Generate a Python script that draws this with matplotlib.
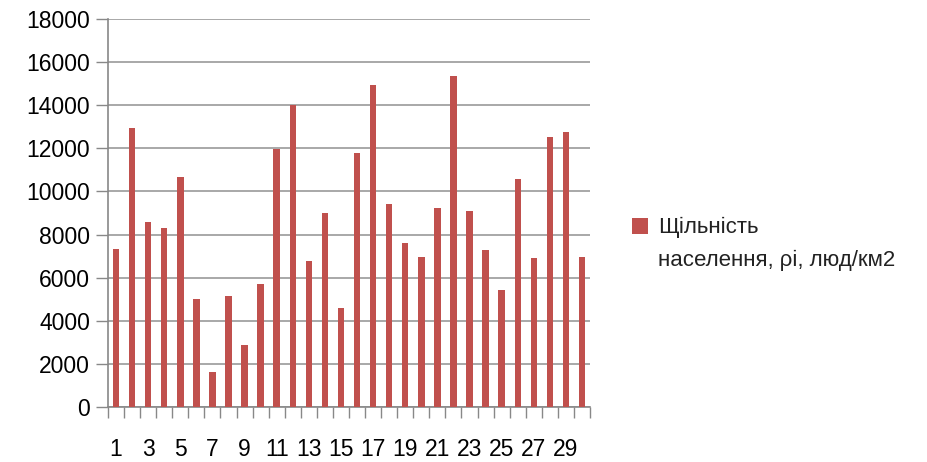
import numpy as np
import matplotlib
matplotlib.use("Agg")
import matplotlib.pyplot as plt
from matplotlib.patches import Rectangle
from matplotlib.ticker import FixedLocator

plt.rcParams['font.family'] = ['Liberation Sans', 'DejaVu Sans']

# district numbers and population density
districts = list(range(1, 31))
density = [7350, 12920, 8560, 8310, 10650, 5030, 1640, 5170, 2890, 5700,
           11960, 14000, 6760, 8980, 4610, 11780, 14940, 9400, 7600, 6950,
           9210, 15350, 9100, 7260, 5450, 10590, 6890, 12510, 12740, 6950]
label_lines = ["Щільність", "населення, ρі, люд/км2"]
y_ticks = list(range(0, 18001, 2000))

fig = plt.figure(figsize=(9.27, 4.62), dpi=100)
ax = fig.add_axes([0.1165, 0.119, 0.52, 0.84])

x = np.arange(len(districts))
bars = ax.bar(x, density, width=0.4, color="#C0504D", zorder=3)

ax.set_xlim(-0.5, len(districts) - 0.5)
ax.set_ylim(0, 18000)
ax.set_yticks(y_ticks)
ax.set_yticklabels([str(v) for v in y_ticks])

# labels on odd districts, tick marks on category borders
ax.xaxis.set_major_locator(FixedLocator(x[::2]))
ax.set_xticklabels([str(d) for d in districts[::2]])
ax.xaxis.set_minor_locator(FixedLocator(np.arange(-0.5, len(districts), 1.0)))
ax.tick_params(axis="x", which="major", length=0, pad=22, labelsize=16.5)
ax.tick_params(axis="x", which="minor", length=8, color="#888888", width=1)
ax.tick_params(axis="y", length=9, color="#888888", width=1, labelsize=16.5, pad=4)

ax.grid(axis="y", color="#999999", linewidth=1.2, zorder=0)
for s in ["top", "right"]:
    ax.spines[s].set_visible(False)
for s in ["left", "bottom"]:
    ax.spines[s].set_color("#888888")
    ax.spines[s].set_linewidth(1.2)

# legend: marker on the first line only, label wraps to a second line
blank = Rectangle((0, 0), 1, 1, alpha=0)
leg = ax.legend([bars, blank], label_lines, loc="center left",
                bbox_to_anchor=(1.045, 0.42), frameon=False,
                fontsize=16, handlelength=0.75, handleheight=0.75,
                handletextpad=0.45, labelspacing=0.5)
for t in leg.get_texts():
    t.set_color("#222222")

fig.savefig("out.png", dpi=100)
